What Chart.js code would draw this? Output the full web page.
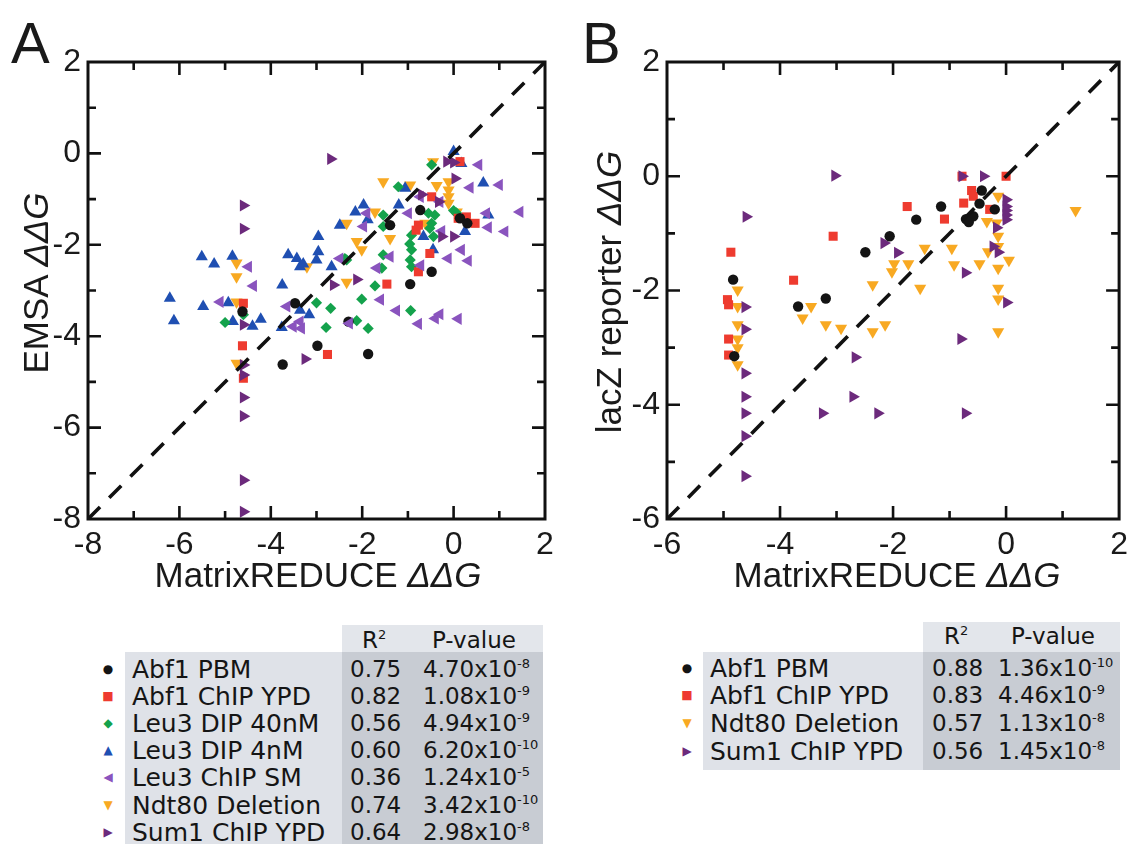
<!DOCTYPE html>
<html>
<head>
<meta charset="utf-8">
<script src="https://cdn.jsdelivr.net/npm/chart.js@4.4.1/dist/chart.umd.min.js"></script>
<style>
  body { margin: 0; width: 1135px; height: 844px; background: #fff; position: relative; overflow: hidden;
         font-family: "Liberation Sans", Arial, sans-serif; color: #1a1a1a; }
  canvas { position: absolute; top: 0; }
  #chartA { left: 0; }
  #chartB { left: 575px; }
  .txt { position: absolute; white-space: nowrap; line-height: 1; }
  .letter { font-size: 58px; }
  .axtitle { font-size: 35px; transform: translate(-50%, -50%); }
  .ytitle { transform: translate(-50%, -50%) rotate(-90deg); }
  .box { position: absolute; }
  .light { background: #dfe2e8; }
  .dark { background: #c8ccd3; }
  .head { background: #e3e6eb; }
  .row { position: absolute; font-family: "DejaVu Sans", sans-serif; font-size: 23px; height: 27px; line-height: 27px; white-space: nowrap; color: #151515; }
  .row sup { font-size: 13px; vertical-align: 9px; line-height: 0; }
  .name { font-size: 25px; }
  .mk { position: absolute; font-size: 12px; line-height: 27px; transform: translateX(-50%); font-family: "DejaVu Sans", sans-serif; }
</style>
</head>
<body>
<canvas id="chartA" width="570" height="600"></canvas>
<canvas id="chartB" width="560" height="600"></canvas>

<div class="txt letter" style="left:11px; top:14px;">A</div>
<div class="txt letter" style="left:582px; top:14px;">B</div>
<div class="txt axtitle" style="left:318px; top:574px;">MatrixREDUCE <i>ΔΔG</i></div>
<div class="txt axtitle" style="left:897px; top:574px;">MatrixREDUCE <i>ΔΔG</i></div>
<div class="txt axtitle ytitle" style="left:35px; top:283px;">EMSA <i>ΔΔG</i></div>
<div class="txt axtitle ytitle" style="left:608px; top:292px;">lacZ reporter <i>ΔΔG</i></div>

<div id="legendA"></div>
<div id="legendB"></div>

<script>
// ---- panel A: EMSA vs MatrixREDUCE (x, y pairs) ----
const abf1PbmA = [[-3.74,-4.62],[-3.47,-3.28],[-2.98,-4.21],[-2.3,-3.68],[-1.87,-4.39],[-0.95,-2.86],[-0.48,-2.59],
  [-4.62,-3.46],[-1.39,-1.57],[-0.73,-1.24],[0.14,-1.42],[0.3,-1.53]];
const abf1ChipA = [[0.14,-0.18],[-0.48,-0.95],[-0.77,-1.57],[-0.82,-1.68],[0.28,-1.39],[0.47,-1.53],[0.1,-1.42],
  [-0.52,-2.19],[-0.77,-2.59],[-1.46,-2.86],[-2.76,-4.4],[-4.6,-3.28],[-4.62,-4.21],[-4.6,-4.92]];
const leu3Dip40A = [[-0.48,-0.25],[-1.21,-0.73],[-0.55,-1.31],[-0.41,-1.35],[0,-1.25],[0.06,-1.3],[-1.54,-1.35],
  [-1.54,-1.6],[-0.48,-1.53],[-0.92,-1.79],[-0.44,-1.82],[-0.52,-1.64],[-2.38,-2.3],[-1.54,-2.22],[-0.92,-2.11],
  [-0.95,-2.33],[-0.92,-2.48],[-2.34,-2.33],[-1.57,-2.51],[-1.72,-2.9],[-2.01,-3.19],[-0.94,-3.44],[-3.0,-3.27],
  [-2.69,-3.39],[-2.79,-3.81],[-2.12,-3.66],[-1.87,-3.83],[-4.6,-3.53],[-5.0,-3.7],[-0.96,-1.98]];
const leu3Dip4A = [[0,0.04],[0.17,-0.22],[-1.06,-0.76],[0.65,-0.65],[-1.2,-1.13],[-1.97,-1.13],[-2.15,-1.28],
  [-1.88,-1.45],[0.76,-1.35],[0.25,-1.71],[-2.49,-1.57],[-2.96,-1.82],[-0.66,-1.82],[-0.45,-2.11],[-2.96,-2.15],
  [-3.0,-2.33],[-5.51,-2.26],[-5.24,-2.42],[-4.84,-2.25],[-3.62,-2.22],[-3.43,-2.3],[-3.36,-2.48],[-2.67,-2.48],
  [-3.29,-2.42],[-3.75,-2.88],[-6.21,-3.17],[-6.12,-3.66],[-5.48,-3.35],[-4.93,-3.27],[-4.83,-3.68],[-4.4,-3.78],
  [-4.22,-3.63],[-3.36,-3.43],[-3.16,-3.53],[-3.76,-3.81]];
const leu3ChipA = [[0.55,-0.25],[0.36,-0.75],[1.0,-0.69],[-0.73,-0.95],[-0.3,-1.06],[-0.99,-1.31],[-1.9,-1.31],
  [-1.97,-1.6],[0.72,-1.31],[1.45,-1.28],[0.76,-1.62],[1.12,-1.71],[-0.26,-1.7],[0.17,-2.11],[-0.12,-2.3],
  [0.32,-2.35],[-2.49,-2.3],[-1.68,-2.51],[-1.39,-2.26],[-4.49,-2.48],[-4.38,-2.9],[-5.11,-3.25],[-3.65,-3.35],
  [-3.36,-3.68],[-3.51,-3.79],[-3.33,-3.83],[-1.6,-3.2],[-1.25,-3.44],[-0.77,-3.73],[-0.4,-3.61],[-0.3,-3.52],
  [0.1,-3.62],[-2.28,-3.72],[-0.72,-2.45]];
const ndt80A = [[-0.45,-0.18],[-1.54,-0.62],[-0.11,-0.62],[-0.37,-0.7],[-0.95,-0.69],[-0.11,-0.8],[-0.11,-0.95],
  [-0.11,-1.09],[-1.72,-1.28],[-2.34,-1.53],[0.07,-1.28],[-1.39,-1.86],[-2.12,-1.93],[-0.62,-1.53],[-4.75,-2.4],
  [-4.75,-2.7],[-3.21,-2.48],[-2.01,-2.11],[-2.34,-2.82],[-4.75,-3.25],[-4.75,-4.59]];
const sum1A = [[-2.69,-0.12],[-0.15,-0.18],[0,-0.2],[0.03,-0.55],[-0.33,-1.06],[0,-1.82],[-0.26,-1.82],[-4.6,-1.14],
  [-4.6,-1.65],[-2.63,-2.88],[-2.12,-2.76],[-3.25,-4.5],[-4.6,-3.75],[-4.6,-4.63],[-4.6,-4.85],[-4.6,-5.34],
  [-4.6,-5.75],[-4.6,-7.15],[-4.6,-7.84],[-0.7,-0.9]];

// ---- panel B: lacZ reporter vs MatrixREDUCE ----
const abf1PbmB = [[-4.83,-1.81],[-4.81,-3.15],[-3.68,-2.28],[-3.19,-2.14],[-2.49,-1.33],[-2.06,-1.05],[-1.59,-0.76],
  [-1.15,-0.53],[-0.71,-0.75],[-0.58,-0.7],[-0.47,-0.48],[-0.43,-0.25],[-0.2,-0.58],[-0.66,-0.8]];
const abf1ChipB = [[-4.87,-1.33],[-4.93,-2.16],[-4.91,-2.25],[-4.91,-2.85],[-4.91,-3.13],[-3.76,-1.82],[-3.06,-1.05],
  [-1.75,-0.53],[-1.09,-0.75],[-0.75,-0.47],[-0.61,-0.25],[-0.58,-0.35],[-0.29,-0.58],[-0.78,0],[0,0]];
const ndt80B = [[-4.75,-1.99],[-4.75,-2.28],[-4.75,-2.6],[-4.75,-2.85],[-4.75,-3.0],[-4.75,-3.3],[-3.6,-2.48],
  [-3.45,-2.28],[-3.19,-2.6],[-2.92,-2.66],[-2.36,-2.72],[-2.14,-2.6],[-2.36,-1.9],[-2.02,-1.67],[-1.98,-1.53],
  [-1.73,-1.53],[-1.52,-1.96],[-1.44,-1.26],[-0.96,-1.26],[-0.92,-1.55],[-0.47,-1.53],[-0.32,-1.32],[-0.34,-0.79],
  [-0.14,-0.35],[-0.17,-0.82],[-0.14,-1.05],[-0.14,-1.23],[-0.14,-1.61],[-0.14,-1.96],[-0.14,-2.15],[-0.14,-2.72],
  [0.05,-1.47],[1.23,-0.6]];
const sum1B = [[-4.6,-0.71],[-4.62,-2.29],[-4.62,-2.68],[-4.62,-3.45],[-4.62,-3.86],[-4.62,-4.15],[-4.62,-4.55],
  [-4.62,-5.25],[-3.03,0.01],[-2.16,-1.17],[-1.92,-1.34],[-2.67,-3.17],[-2.71,-3.86],[-3.25,-4.15],[-2.27,-4.15],
  [-0.8,-2.85],[-0.72,-4.15],[-0.72,-1.69],[-0.78,0],[-0.4,0],[0,-0.41],[0,-0.53],[0,-0.6],[0,-0.68],[0,-0.76],
  [-0.17,-0.9],[-0.23,-1.23],[-0.14,-1.33],[0.01,-2.21]];

// y = x reference line end points
const diagA = [[-8,-8],[2,2]];
const diagB = [[-6,-6],[2,2]];

// tick labels
const ticksA = [-8,-6,-4,-2,0,2];
const ticksB = [-6,-4,-2,0,2];

// legend tables
const namesA = ['Abf1 PBM','Abf1 ChIP YPD','Leu3 DIP 40nM','Leu3 DIP 4nM','Leu3 ChIP SM','Ndt80 Deletion','Sum1 ChIP YPD'];
const r2A = ['0.75','0.82','0.56','0.60','0.36','0.74','0.64'];
const pManA = ['4.70','1.08','4.94','6.20','1.24','3.42','2.98'];
const pExpA = ['-8','-9','-9','-10','-5','-10','-8'];
const namesB = ['Abf1 PBM','Abf1 ChIP YPD','Ndt80 Deletion','Sum1 ChIP YPD'];
const r2B = ['0.88','0.83','0.57','0.56'];
const pManB = ['1.36','4.46','1.13','1.45'];
const pExpB = ['-10','-9','-8','-8'];

// marker look per series
const STYLE = {
  'Abf1 PBM':       { color: '#141414', pointStyle: 'circle',   rotation: 0,   radius: 5.2, glyph: '●' },
  'Abf1 ChIP YPD':  { color: '#ee3b2f', pointStyle: 'rect',     rotation: 0,   radius: 6.4, glyph: '■' },
  'Leu3 DIP 40nM':  { color: '#14a24c', pointStyle: 'rectRot',  rotation: 0,   radius: 5.6, glyph: '◆' },
  'Leu3 DIP 4nM':   { color: '#1f4fb2', pointStyle: 'triangle', rotation: 0,   radius: 7,   glyph: '▲' },
  'Leu3 ChIP SM':   { color: '#8a54be', pointStyle: 'triangle', rotation: -90, radius: 7,   glyph: '◀' },
  'Ndt80 Deletion': { color: '#f8a922', pointStyle: 'triangle', rotation: 180, radius: 7,   glyph: '▼' },
  'Sum1 ChIP YPD':  { color: '#6c2a7c', pointStyle: 'triangle', rotation: 90,  radius: 7,   glyph: '▶' }
};

function toXY(arr) {
  return arr.map(p => ({ x: p[0], y: p[1] }));
}

function scatterSet(name, arr) {
  let s = STYLE[name];
  return {
    type: 'scatter',
    label: name,
    data: toXY(arr),
    pointStyle: s.pointStyle,
    rotation: s.rotation,
    radius: s.radius,
    backgroundColor: s.color,
    borderColor: s.color,
    borderWidth: 0
  };
}

function diagSet(arr) {
  return {
    type: 'line',
    label: 'y = x',
    data: toXY(arr),
    borderColor: '#111',
    borderWidth: 3.6,
    borderDash: [17, 13],
    pointRadius: 0,
    fill: false
  };
}

// box around the plot with inward ticks on all four sides
const framePlugin = {
  id: 'frame',
  afterDraw(chart) {
    const ctx = chart.ctx;
    const a = chart.chartArea;
    const xs = chart.scales.x, ys = chart.scales.y;
    ctx.save();
    ctx.strokeStyle = '#111';
    ctx.lineWidth = 2.6;
    ctx.beginPath();
    for (let v = Math.ceil(xs.min) + 1; v < xs.max; v++) {
      let px = xs.getPixelForValue(v);
      let len = v % 2 === 0 ? 13 : 8;
      ctx.moveTo(px, a.bottom); ctx.lineTo(px, a.bottom - len);
      ctx.moveTo(px, a.top); ctx.lineTo(px, a.top + len);
    }
    for (let v = Math.ceil(ys.min) + 1; v < ys.max; v++) {
      let py = ys.getPixelForValue(v);
      let len = v % 2 === 0 ? 13 : 8;
      ctx.moveTo(a.left, py); ctx.lineTo(a.left + len, py);
      ctx.moveTo(a.right, py); ctx.lineTo(a.right - len, py);
    }
    ctx.stroke();
    ctx.lineWidth = 3;
    ctx.strokeRect(a.left, a.top, a.right - a.left, a.bottom - a.top);
    ctx.restore();
  }
};

function axis(min, max, tickVals, fit) {
  return {
    type: 'linear',
    min: min,
    max: max,
    grid: { display: false, drawTicks: false },
    border: { display: false },
    ticks: {
      color: '#1a1a1a',
      font: { family: 'Liberation Sans', size: 32 },
      padding: 7,
      maxRotation: 0,
      autoSkip: false
    },
    afterBuildTicks: s => { s.ticks = tickVals.map(v => ({ value: v })); },
    afterFit: fit
  };
}

function makeChart(id, sets, min, max, tickVals, yWidth, rightPad) {
  return new Chart(document.getElementById(id), {
    type: 'scatter',
    data: { datasets: sets },
    options: {
      responsive: false,
      animation: false,
      layout: { padding: { top: 62, right: rightPad, left: 0, bottom: 0 } },
      plugins: { legend: { display: false }, tooltip: { enabled: false } },
      scales: {
        x: axis(min, max, tickVals, s => { s.height = 81; }),
        y: axis(min, max, tickVals, s => { s.width = yWidth; })
      }
    },
    plugins: [framePlugin]
  });
}

makeChart('chartA', [
  diagSet(diagA),
  scatterSet('Sum1 ChIP YPD', sum1A),
  scatterSet('Leu3 ChIP SM', leu3ChipA),
  scatterSet('Abf1 PBM', abf1PbmA),
  scatterSet('Abf1 ChIP YPD', abf1ChipA),
  scatterSet('Leu3 DIP 40nM', leu3Dip40A),
  scatterSet('Leu3 DIP 4nM', leu3Dip4A),
  scatterSet('Ndt80 Deletion', ndt80A)
], -8, 2, ticksA, 88, 25);

makeChart('chartB', [
  diagSet(diagB),
  scatterSet('Abf1 PBM', abf1PbmB),
  scatterSet('Sum1 ChIP YPD', sum1B),
  scatterSet('Abf1 ChIP YPD', abf1ChipB),
  scatterSet('Ndt80 Deletion', ndt80B)
], -6, 2, ticksB, 92, 11);

// ---- legend tables ----
function box(parent, cls, l, t, w, h) {
  let d = document.createElement('div');
  d.className = 'box ' + cls;
  d.style.cssText = 'left:' + l + 'px;top:' + t + 'px;width:' + w + 'px;height:' + h + 'px;';
  parent.appendChild(d);
}

function text(parent, cls, l, t, html) {
  let d = document.createElement('div');
  d.className = cls;
  d.style.left = l + 'px';
  d.style.top = t + 'px';
  d.innerHTML = html;
  parent.appendChild(d);
}

function legend(id, g, names, r2, pMan, pExp) {
  let el = document.getElementById(id);
  box(el, 'light', g.left, g.top, g.right - g.left, g.bottom - g.top);
  box(el, 'dark', g.split, g.top, g.right - g.split, g.bottom - g.top);
  box(el, 'head', g.split, g.headTop, g.right - g.split, g.top - g.headTop);
  text(el, 'row', g.r2Head, g.headMid - 13.5, 'R<sup>2</sup>');
  text(el, 'row', g.pHead, g.headMid - 13.5, 'P-value');
  for (let i = 0; i < names.length; i++) {
    let y = g.firstMid + i * g.step - 13.5;
    let s = STYLE[names[i]];
    text(el, 'mk', g.mark, y, '<span style="color:' + s.color + '">' + s.glyph + '</span>');
    text(el, 'row name', g.name, y, names[i]);
    text(el, 'row', g.r2, y, r2[i]);
    text(el, 'row', g.p, y, pMan[i] + 'x10<sup>' + pExp[i] + '</sup>');
  }
}

legend('legendA', { left: 125, right: 543, split: 342, top: 652, bottom: 844, headTop: 625, headMid: 640,
  r2Head: 362, pHead: 432, firstMid: 669, step: 27.2, mark: 108, name: 132, r2: 350, p: 423 },
  namesA, r2A, pManA, pExpA);

legend('legendB', { left: 703, right: 1120, split: 923, top: 652, bottom: 770, headTop: 622, headMid: 636,
  r2Head: 944, pHead: 1011, firstMid: 668, step: 27.8, mark: 687, name: 710, r2: 932, p: 998 },
  namesB, r2B, pManB, pExpB);
</script>
</body>
</html>
